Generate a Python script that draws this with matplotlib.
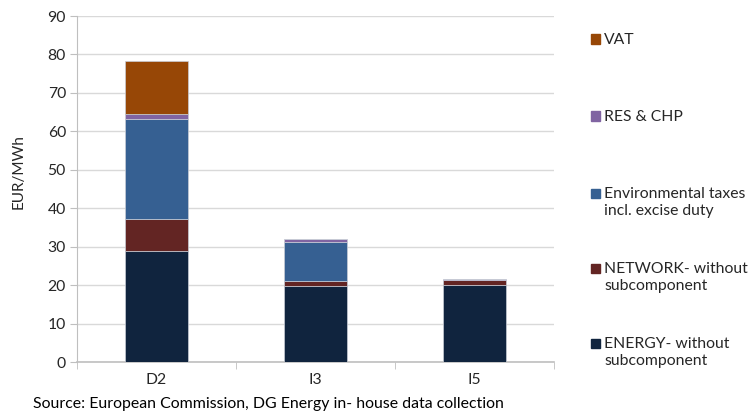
import numpy as np
import matplotlib.pyplot as plt
from matplotlib.patches import Rectangle

plt.rcParams['font.family'] = ['Lato', 'DejaVu Sans']

# данные
categories = ['D2', 'I3', 'I5']
energy = [29.0, 19.7, 20.0]
network = [8.1, 1.3, 1.4]
env_taxes = [26.1, 10.2, 0.0]
res_chp = [1.4, 0.7, 0.15]
vat = [13.7, 0.0, 0.0]

series = [energy, network, env_taxes, res_chp, vat]
labels = ['ENERGY- without\nsubcomponent', 'NETWORK- without\nsubcomponent',
          'Environmental taxes\nincl. excise duty', 'RES & CHP', 'VAT']
colors = ['#10243e', '#632523', '#366092', '#8064a2', '#974706']

fig = plt.figure(figsize=(7.48, 4.16), dpi=100)
ax = fig.add_axes([77 / 748, 54 / 416, 477 / 748, 346 / 416])

x = np.arange(len(categories))
bottom = np.zeros(len(categories))
for vals, col in zip(series, colors):
    ax.bar(x, vals, 0.4, bottom=bottom, color=col, edgecolor='#c8cdd6', linewidth=0.5, zorder=3)
    bottom += np.array(vals)

grey = '#bfbfbf'
ax.set_xlim(-0.5, 2.5)
ax.set_ylim(0, 90)
ax.set_yticks(range(0, 91, 10))
ax.yaxis.grid(True, color='#d9d9d9', linewidth=1, zorder=0)
ax.set_xticks(x)
ax.set_xticklabels(categories, fontsize=11.3, color='#262626')
ax.set_xticks([-0.5, 0.5, 1.5, 2.5], minor=True)
ax.tick_params(axis='x', which='major', length=0, pad=8)
ax.tick_params(axis='x', which='minor', length=5, color=grey, direction='out')
ax.tick_params(axis='y', length=5, color=grey, labelsize=11.3, labelcolor='#262626', pad=3)
for s in ['top', 'right']:
    ax.spines[s].set_visible(False)
ax.spines['left'].set_color(grey)
ax.spines['bottom'].set_color(grey)
ax.spines['bottom'].set_linewidth(1.2)

ax.set_ylabel('EUR/MWh', fontsize=11, color='#262626')
ax.yaxis.set_label_coords(-0.107, 0.55)

# легенда вручную (сверху вниз)
leg_y = [39, 116, 193, 268, 343]
for yy, lab, col in zip(leg_y, labels[::-1], colors[::-1]):
    fig.patches.append(Rectangle((591 / 748, 1 - (yy + 4.5) / 416), 9 / 748, 9 / 416,
                                 transform=fig.transFigure, color=col))
    fig.text(604 / 748, 1 - (yy - 6) / 416, lab, fontsize=11.3, color='#262626',
             va='top', ha='left', linespacing=1.3)

fig.text(33 / 748, 1 - 404 / 416, 'Source: European Commission, DG Energy in- house data collection',
         fontsize=11.4, color='#000000', va='center', ha='left')

fig.savefig('out.png', dpi=100)
